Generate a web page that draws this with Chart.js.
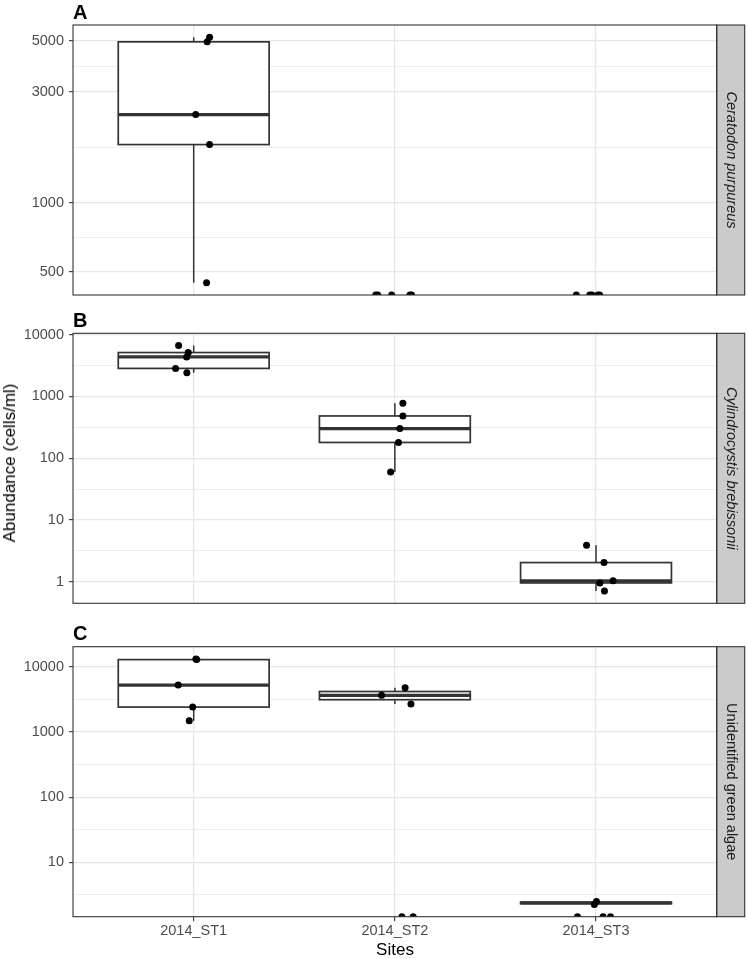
<!DOCTYPE html>
<html>
<head>
<meta charset="utf-8">
<script src="https://cdn.jsdelivr.net/npm/chart.js@4.4.1/dist/chart.umd.min.js"></script>
<style>
  body { margin: 0; background: #fff; font-family: "Liberation Sans", Arial, Helvetica, sans-serif; }
  #wrap { position: relative; width: 747px; height: 959px; overflow: hidden; }
  canvas { position: absolute; left: 0; }
  .title { position: absolute; white-space: nowrap; font-size: 17px; color: #000; transform: translate(-50%, -50%); }
  #ytitle { left: 10px; top: 463px; transform: translate(-50%, -50%) rotate(-90deg); }
  #xtitle { left: 395px; top: 950px; }
</style>
</head>
<body>
<div id="wrap">
  <canvas id="panelA" width="747" height="310" style="top:0px"></canvas>
  <canvas id="panelB" width="747" height="310" style="top:310px"></canvas>
  <canvas id="panelC" width="747" height="339" style="top:620px"></canvas>
  <div class="title" id="ytitle">Abundance (cells/ml)</div>
  <div class="title" id="xtitle">Sites</div>
</div>
<script>
Chart.defaults.font.family = '"Liberation Sans", Arial, Helvetica, sans-serif';

const sites = ["2014_ST1", "2014_ST2", "2014_ST3"];
const taxa = ["Ceratodon purpureus", "Cylindrocystis brebissonii", "Unidentified green algae"];

// replicate abundances (cells/ml), one row per site; 0 = not found
const ceratodonCells = [
  [450, 1780, 2400, 4950, 5180],
  [0, 0, 0, 0, 0],
  [0, 0, 0, 0, 0]
];
const cylindroCells = [
  [6650, 5130, 4360, 2840, 2410],
  [774, 483, 302, 180, 60],
  [3.9, 2.05, 1.04, 0.96, 0.71]
];
const greenCells = [
  [13000, 13300, 5290, 2425, 1496],
  [3670, 4820, 2700, 0, 0],
  [2.5, 2.25, 0, 0, 0]
];

// horizontal jitter of the dots (in site units), same layout as above
const ceratodonJitter = [
  [0.064, 0.079, 0.01, 0.067, 0.079],
  [-0.095, -0.085, -0.016, 0.075, 0.083],
  [-0.098, -0.031, -0.02, 0.01, 0.018]
];
const cylindroJitter = [
  [-0.075, -0.027, -0.035, -0.09, -0.034],
  [0.04, 0.04, 0.025, 0.018, -0.021],
  [-0.047, 0.04, 0.085, 0.019, 0.042]
];
const greenJitter = [
  [0.015, 0.011, -0.077, -0.005, -0.022],
  [-0.066, 0.051, 0.08, 0.035, 0.091],
  [0.002, -0.008, -0.092, 0.035, 0.072]
];

// y tick labels per panel
const ticksA = [500, 1000, 3000, 5000];
const ticksB = [1, 10, 100, 1000, 10000];
const ticksC = [10, 100, 1000, 10000];

// quantile type 7, on log10 values like ggplot's stat on a log scale
function quantile(s, p) {
  const h = (s.length - 1) * p, lo = Math.floor(h), hi = Math.min(lo + 1, s.length - 1);
  return s[lo] + (h - lo) * (s[hi] - s[lo]);
}

function boxStats(values) {
  const logs = values.filter(v => v > 0).map(Math.log10).sort((a, b) => a - b);
  if (!logs.length) return null;
  const q1 = quantile(logs, 0.25), med = quantile(logs, 0.5), q3 = quantile(logs, 0.75);
  const iqr = q3 - q1;
  const inside = logs.filter(v => v >= q1 - 1.5 * iqr && v <= q3 + 1.5 * iqr);
  return [inside[0], q1, med, q3, inside[inside.length - 1]].map(v => Math.pow(10, v));
}

function logRange(cells) {
  const logs = [].concat(...cells).filter(v => v > 0).map(Math.log10);
  const lo = Math.min(...logs), hi = Math.max(...logs), pad = (hi - lo) * 0.05;
  return [Math.pow(10, lo - pad), Math.pow(10, hi + pad)];
}

function minorBreaks(major, lo, hi) {
  let b = major.map(Math.log10);
  const bd = b[1] - b[0], l = Math.log10(lo), h = Math.log10(hi);
  if (l < b[0]) b = [b[0] - bd].concat(b);
  if (h > b[b.length - 1]) b = b.concat([b[b.length - 1] + bd]);
  const out = [];
  for (let i = 0; i < b.length - 1; i++) out.push((b[i] + b[i + 1]) / 2);
  return out.filter(v => v > l && v < h).map(v => Math.pow(10, v));
}

function makePanel(canvasId, letter, taxon, italic, cells, jitter, majorTicks, pad, showX) {
  const [yMin, yMax] = logRange(cells);
  const boxes = cells.map(boxStats);
  const yTicks = majorTicks.concat(minorBreaks(majorTicks, yMin, yMax));
  const isMajor = v => majorTicks.includes(v);

  const points = [];
  cells.forEach((row, s) => row.forEach((v, k) => {
    points.push({ x: s + 1 + jitter[s][k], y: v > 0 ? v : yMin });
  }));

  const facet = {
    id: "facet_" + canvasId,
    beforeDatasetsDraw(chart) {
      const { ctx, chartArea: a, scales: { x, y } } = chart;
      ctx.save();
      ctx.beginPath();
      ctx.rect(a.left, a.top, a.right - a.left, a.bottom - a.top);
      ctx.clip();
      ctx.strokeStyle = "#333333";
      boxes.forEach((st, i) => {
        if (!st) return;
        const [lo, q1, med, q3, hi] = st.map(v => y.getPixelForValue(v));
        const cx = x.getPixelForValue(i + 1);
        const l = x.getPixelForValue(i + 1 - 0.375), r = x.getPixelForValue(i + 1 + 0.375);
        ctx.lineWidth = 1.5;
        ctx.beginPath();
        ctx.moveTo(cx, q3); ctx.lineTo(cx, hi);
        ctx.moveTo(cx, q1); ctx.lineTo(cx, lo);
        ctx.stroke();
        ctx.fillStyle = "#ffffff";
        ctx.fillRect(l, q3, r - l, q1 - q3);
        ctx.lineWidth = 1.7;
        ctx.strokeRect(l, q3, r - l, q1 - q3);
        ctx.lineWidth = 3.3;
        ctx.beginPath();
        ctx.moveTo(l, med); ctx.lineTo(r, med);
        ctx.stroke();
      });
      ctx.restore();
    },
    afterDraw(chart) {
      const { ctx, chartArea: a } = chart;
      ctx.save();
      // strip on the right
      ctx.fillStyle = "#cbcbcb";
      ctx.fillRect(a.right, a.top, 28, a.bottom - a.top);
      ctx.strokeStyle = "#333333";
      ctx.lineWidth = 1.1;
      ctx.strokeRect(a.right, a.top, 28, a.bottom - a.top);
      ctx.strokeRect(a.left, a.top, a.right - a.left, a.bottom - a.top);
      ctx.translate(a.right + 14, (a.top + a.bottom) / 2);
      ctx.rotate(Math.PI / 2);
      ctx.fillStyle = "#1a1a1a";
      ctx.font = (italic ? "italic " : "") + '14.5px "Liberation Sans", Arial, sans-serif';
      ctx.textAlign = "center";
      ctx.textBaseline = "middle";
      ctx.fillText(taxon, 0, 0);
      ctx.restore();
      // panel letter
      ctx.save();
      ctx.fillStyle = "#000";
      ctx.font = 'bold 20px "Liberation Sans", Arial, sans-serif';
      ctx.textAlign = "left";
      ctx.textBaseline = "alphabetic";
      ctx.fillText(letter, a.left, a.top - 6.3);
      ctx.restore();
    }
  };

  return new Chart(document.getElementById(canvasId).getContext("2d"), {
    type: "scatter",
    data: {
      datasets: [{
        data: points,
        pointRadius: 3.5,
        pointHoverRadius: 3.5,
        pointBackgroundColor: "#000000",
        pointBorderWidth: 0,
        clip: 0
      }]
    },
    options: {
      responsive: false,
      animation: false,
      events: [],
      layout: { padding: { top: pad[0], right: 30.3, bottom: pad[1], left: 0 } },
      plugins: { legend: { display: false }, tooltip: { enabled: false } },
      scales: {
        x: {
          type: "linear",
          min: 0.4,
          max: 3.6,
          bounds: "data",
          afterBuildTicks: s => { s.ticks = sites.map((_, i) => ({ value: i + 1 })); },
          afterFit: s => { s.height = showX ? 42.3 : 0; },
          ticks: {
            display: showX,
            autoSkip: false,
            maxRotation: 0,
            padding: 1.5,
            color: "#4d4d4d",
            font: { size: 14.5 },
            callback: v => sites[Math.round(v) - 1]
          },
          grid: {
            color: "#e6e6e6",
            lineWidth: 1.3,
            drawTicks: showX,
            tickLength: 4.5,
            tickColor: "#333333",
            tickWidth: 1.1
          },
          border: { display: false }
        },
        y: {
          type: "logarithmic",
          min: yMin,
          max: yMax,
          bounds: "data",
          afterBuildTicks: s => { s.ticks = yTicks.map(v => ({ value: v })); },
          afterFit: s => { s.width = 73; },
          ticks: {
            autoSkip: false,
            padding: 5,
            color: "#4d4d4d",
            font: { size: 14.5 },
            callback: v => isMajor(v) ? String(v) : ""
          },
          grid: {
            color: "#e6e6e6",
            lineWidth: c => (c.tick && isMajor(c.tick.value)) ? 1.3 : 0.7,
            tickLength: 4,
            tickColor: c => (c.tick && isMajor(c.tick.value)) ? "#333333" : "rgba(0,0,0,0)",
            tickWidth: 1.1
          },
          border: { display: false }
        }
      }
    },
    plugins: [facet]
  });
}

makePanel("panelA", "A", taxa[0], true, ceratodonCells, ceratodonJitter, ticksA, [25, 15], false);
makePanel("panelB", "B", taxa[1], true, cylindroCells, cylindroJitter, ticksB, [23.3, 16.7], false);
makePanel("panelC", "C", taxa[2], false, greenCells, greenJitter, ticksC, [26.7, 0], true);
</script>
</body>
</html>
